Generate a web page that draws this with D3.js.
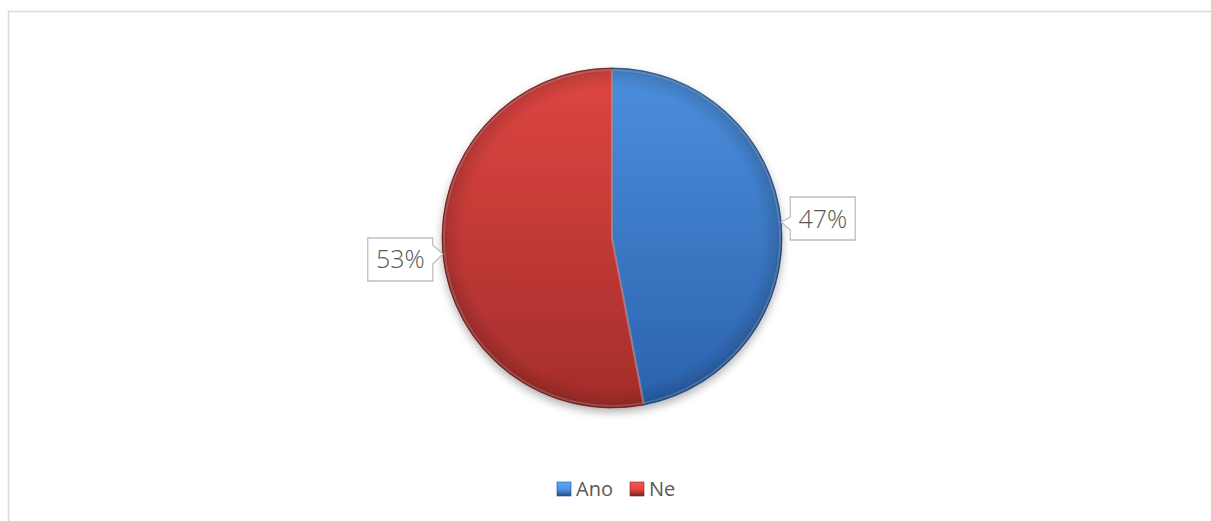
<!DOCTYPE html>
<html>
<head>
<meta charset="utf-8">
<script src="https://cdn.jsdelivr.net/npm/d3@7/dist/d3.min.js"></script>
<style>
  html, body { margin: 0; padding: 0; background: #ffffff; }
  svg { display: block; }
</style>
</head>
<body>
<svg id="chart" width="1211" height="521"></svg>
<script>
// Survey answers
const categories = ["Ano", "Ne"];
const values = [47, 53];
const labels = ["47%", "53%"];

const W = 1211, H = 521;
const svg = d3.select("#chart");
const defs = svg.append("defs");

const palette = [
  { top: "#4c8fdd", bottom: "#2b62ad", edge: "#234f8c" },
  { top: "#de4642", bottom: "#a42d2a", edge: "#7e2220" }
];

// Vertical gradients for slices and legend markers
palette.forEach((p, i) => {
  const g = defs.append("linearGradient").attr("id", "slice" + i)
    .attr("x1", 0).attr("y1", 0).attr("x2", 0).attr("y2", 1);
  g.append("stop").attr("offset", "0%").attr("stop-color", p.top);
  g.append("stop").attr("offset", "100%").attr("stop-color", p.bottom);
  const m = defs.append("linearGradient").attr("id", "mark" + i)
    .attr("x1", 0).attr("y1", 0).attr("x2", 0).attr("y2", 1);
  m.append("stop").attr("offset", "0%").attr("stop-color", d3.color(p.top).brighter(0.5));
  m.append("stop").attr("offset", "55%").attr("stop-color", p.top);
  m.append("stop").attr("offset", "100%").attr("stop-color", p.edge);
});

// Rim shading for the bevelled look
const rim = defs.append("radialGradient").attr("id", "rim")
  .attr("cx", "50%").attr("cy", "50%").attr("r", "50%");
rim.append("stop").attr("offset", "88%").attr("stop-color", "#000").attr("stop-opacity", 0);
rim.append("stop").attr("offset", "97%").attr("stop-color", "#000").attr("stop-opacity", 0.12);
rim.append("stop").attr("offset", "100%").attr("stop-color", "#000").attr("stop-opacity", 0.3);

const shadow = defs.append("filter").attr("id", "shadow")
  .attr("x", "-20%").attr("y", "-20%").attr("width", "140%").attr("height", "140%");
shadow.append("feDropShadow").attr("dx", 0).attr("dy", 4).attr("stdDeviation", 4)
  .attr("flood-color", "#000").attr("flood-opacity", 0.3);

// Chart frame
svg.append("rect")
  .attr("x", 8.5).attr("y", 11.5).attr("width", W).attr("height", H)
  .attr("fill", "none").attr("stroke", "#d9d9d9").attr("stroke-width", 1.5);

const cx = 612, cy = 238, R = 170;
const pie = d3.pie().sort(null).value(d => d)(values);
const arc = d3.arc().innerRadius(0).outerRadius(R);

const g = svg.append("g").attr("transform", `translate(${cx},${cy})`);
const slices = g.append("g").attr("filter", "url(#shadow)");
slices.selectAll("path.slice").data(pie).join("path")
  .attr("class", "slice")
  .attr("d", arc)
  .attr("fill", (d, i) => `url(#slice${i})`)
  .attr("stroke", (d, i) => palette[i].edge)
  .attr("stroke-width", 0.8);

g.append("circle").attr("r", R).attr("fill", "url(#rim)").attr("pointer-events", "none");

// Light highlight along slice borders
g.selectAll("path.hl").data(pie).join("path")
  .attr("class", "hl")
  .attr("d", d3.arc().innerRadius(0).outerRadius(R - 2))
  .attr("fill", "none")
  .attr("stroke", "#ffffff").attr("stroke-opacity", 0.18).attr("stroke-width", 2);

// Callout labels
const bw = 65, bh = 43;
pie.forEach((d, i) => {
  const a = (d.startAngle + d.endAngle) / 2;
  const tx = R * Math.sin(a), ty = -R * Math.cos(a);
  const right = tx > 0;
  let x0, y0, path;
  if (right) {
    x0 = tx + 9; y0 = ty - 25;
    const n1 = ty - 5, n2 = ty + 8;
    path = `M${x0},${y0}H${x0 + bw}V${y0 + bh}H${x0}V${n2}L${tx},${ty}L${x0},${n1}Z`;
  } else {
    x0 = tx - 10 - bw; y0 = ty - 16;
    const x1 = x0 + bw;
    const n1 = ty - 9, n2 = ty + 10;
    path = `M${x0},${y0}H${x1}V${n1}L${tx},${ty}L${x1},${n2}V${y0 + bh}H${x0}Z`;
  }
  g.append("path").attr("d", path)
    .attr("fill", "#ffffff").attr("stroke", "#bfbfbf").attr("stroke-width", 1.3);
  g.append("text")
    .attr("x", x0 + bw / 2).attr("y", y0 + bh / 2 + 9)
    .attr("text-anchor", "middle")
    .attr("font-family", "'Open Sans', sans-serif")
    .attr("font-weight", 300)
    .attr("font-size", 25)
    .attr("fill", "#595959")
    .text(labels[i]);
});

// Legend
const legend = svg.append("g").attr("transform", "translate(557,482)");
const lx = [0, 73];
categories.forEach((c, i) => {
  const item = legend.append("g").attr("transform", `translate(${lx[i]},0)`);
  item.append("rect").attr("width", 14).attr("height", 14)
    .attr("fill", `url(#mark${i})`).attr("stroke", palette[i].edge).attr("stroke-width", 0.6);
  item.append("text").attr("x", 19).attr("y", 14)
    .attr("font-family", "'Open Sans', sans-serif")
    .attr("font-size", 20)
    .attr("fill", "#595959")
    .text(c);
});
</script>
</body>
</html>
